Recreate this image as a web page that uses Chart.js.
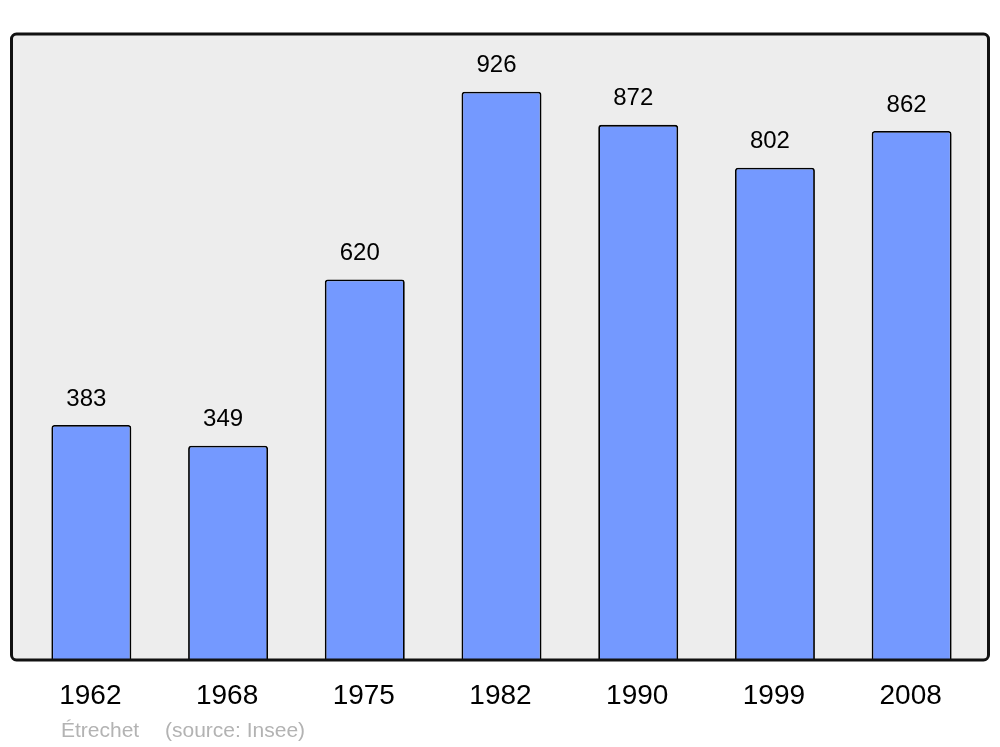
<!DOCTYPE html>
<html>
<head>
<meta charset="utf-8">
<script src="https://cdn.jsdelivr.net/npm/chart.js@4.4.1/dist/chart.umd.min.js"></script>
<style>
  html, body { margin: 0; padding: 0; background: #ffffff; }
  canvas { display: block; }
</style>
</head>
<body>
<canvas id="myChart" width="1000" height="747"></canvas>
<script>
// population by census year
const years = ["1962", "1968", "1975", "1982", "1990", "1999", "2008"];
const population = [383, 349, 620, 926, 872, 802, 862];
const commune = "Étrechet";
const source = "(source: Insee)";

const frame = {
  id: "frame",
  beforeDatasetsDraw(chart) {
    const { ctx, chartArea } = chart;
    ctx.save();
    ctx.beginPath();
    ctx.roundRect(11.5, chartArea.top, 977, chartArea.bottom - chartArea.top, 5);
    ctx.fillStyle = "#ededed";
    ctx.fill();
    ctx.restore();
  },
  afterDatasetsDraw(chart) {
    const { ctx, chartArea } = chart;
    const xScale = chart.scales.x;
    ctx.save();
    ctx.beginPath();
    ctx.roundRect(11.5, chartArea.top, 977, chartArea.bottom - chartArea.top, 5);
    ctx.lineWidth = 3;
    ctx.strokeStyle = "#111111";
    ctx.stroke();

    // value labels above each bar
    ctx.fillStyle = "#000000";
    ctx.textAlign = "center";
    ctx.textBaseline = "middle";
    ctx.font = "24px 'Liberation Sans', Arial, sans-serif";
    chart.getDatasetMeta(0).data.forEach((bar, i) => {
      ctx.fillText(String(population[i]), bar.x - 5, bar.y - 26);
    });

    // year labels
    ctx.font = "28px 'Liberation Sans', Arial, sans-serif";
    years.forEach((y, i) => {
      ctx.fillText(y, xScale.getPixelForValue(i) - 1, 696);
    });

    // footer
    ctx.fillStyle = "#b3b3b3";
    ctx.textAlign = "left";
    ctx.font = "21px 'Liberation Sans', Arial, sans-serif";
    ctx.fillText(commune, 61, 731);
    ctx.fillText(source, 165, 731);
    ctx.restore();
  }
};

new Chart(document.getElementById("myChart"), {
  type: "bar",
  data: {
    labels: years,
    datasets: [{
      data: population,
      backgroundColor: "#7499ff",
      borderColor: "#000000",
      borderWidth: 1.8,
      borderRadius: { topLeft: 3, topRight: 3 },
      borderSkipped: "bottom",
      barPercentage: 0.585,
      categoryPercentage: 1
    }]
  },
  options: {
    responsive: false,
    animation: false,
    layout: { padding: { left: 23, right: 20, top: 34, bottom: 87 } },
    plugins: { legend: { display: false }, tooltip: { enabled: false } },
    scales: {
      x: { display: false },
      y: { display: false, min: 0, max: 1020 }
    }
  },
  plugins: [frame]
});
</script>
</body>
</html>
